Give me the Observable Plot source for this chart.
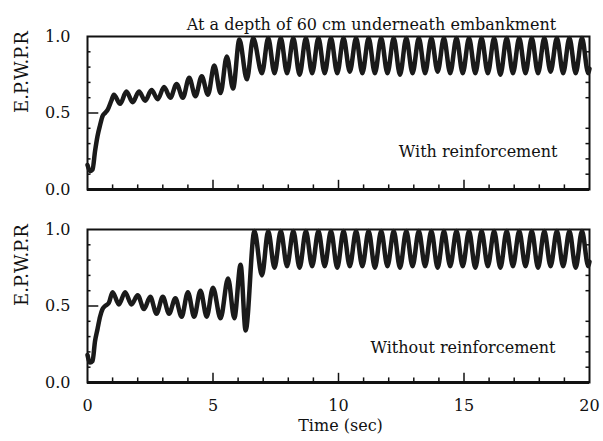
<!DOCTYPE html>
<html><head><meta charset="utf-8">
<script src="https://cdn.jsdelivr.net/npm/d3@7"></script>
<script src="https://cdn.jsdelivr.net/npm/@observablehq/plot@0.6"></script>
<style>html,body{margin:0;padding:0;background:#fff;} #chart{width:603px;height:441px;}</style>
</head><body><div id="chart"></div>
<script>
const panels = ["With reinforcement", "Without reinforcement"];
const title = "At a depth of 60 cm underneath embankment";
const xLabel = "Time (sec)";
const yLabel = "E.P.W.P.R";
const xTicks = [0, 5, 10, 15, 20];
const yTicks = [0, 0.5, 1];
const xMinorTicks = [1, 2, 3, 4, 6, 7, 8, 9, 11, 12, 13, 14, 16, 17, 18, 19];
const xMajorTicks = [5, 10, 15];
const yMinorTicks = [0.1, 0.2, 0.3, 0.4, 0.6, 0.7, 0.8, 0.9];
const yMajorTicks = [0.5];

const withT = [0, 0.1, 0.2, 0.3, 0.4, 0.5, 0.6, 0.7, 0.8, 0.95,
  1.05, 1.3, 1.55, 1.8, 2.05, 2.3, 2.55, 2.8, 3.05, 3.3, 3.55, 3.8, 4.05, 4.3, 4.55, 4.8, 5.05, 5.3, 5.55, 5.8, 6.05, 6.35, 6.6,
  6.95, 7.2, 7.45, 7.7, 7.95, 8.2, 8.45, 8.7, 8.95, 9.2, 9.45, 9.7, 9.95, 10.2, 10.45, 10.7, 10.95, 11.2, 11.45, 11.7, 11.95, 12.2,
  12.45, 12.7, 12.95, 13.2, 13.45, 13.7, 13.95, 14.2, 14.45, 14.7, 14.95, 15.2, 15.45, 15.7, 15.95, 16.2, 16.45, 16.7, 16.95, 17.2,
  17.45, 17.7, 17.95, 18.2, 18.45, 18.7, 18.95, 19.2, 19.45, 19.7, 19.95, 20];
const withV = [0.16, 0.12, 0.13, 0.25, 0.35, 0.42, 0.48, 0.50, 0.52, 0.58,
  0.62, 0.56, 0.64, 0.57, 0.64, 0.58, 0.65, 0.59, 0.67, 0.60, 0.69, 0.60, 0.73, 0.61, 0.74, 0.62, 0.81, 0.63, 0.87, 0.66, 0.98, 0.72, 0.99,
  0.76, 0.99, 0.76, 0.99, 0.76, 0.99, 0.75, 0.99, 0.76, 0.99, 0.76, 0.99, 0.76, 0.99, 0.77, 0.99, 0.76, 0.99, 0.76, 0.99,
  0.76, 0.99, 0.75, 0.99, 0.76, 0.99, 0.76, 0.99, 0.77, 0.99, 0.76, 0.99, 0.76, 0.99, 0.76, 0.99, 0.76, 0.99, 0.75, 0.99,
  0.76, 0.99, 0.76, 0.99, 0.76, 0.99, 0.77, 0.99, 0.76, 0.99, 0.76, 0.99, 0.76, 0.79];

const withoutT = [0, 0.1, 0.2, 0.3, 0.4, 0.5, 0.6, 0.7, 0.85,
  1.0, 1.25, 1.5, 1.75, 2.0, 2.25, 2.5, 2.75, 3.0, 3.25, 3.5, 3.75, 4.0, 4.25, 4.5, 4.75, 5.0, 5.3, 5.6, 5.85, 6.1, 6.3, 6.65,
  6.95, 7.2, 7.45, 7.7, 7.95, 8.2, 8.45, 8.7, 8.95, 9.2, 9.45, 9.7, 9.95, 10.2, 10.45, 10.7, 10.95, 11.2, 11.45, 11.7, 11.95, 12.2,
  12.45, 12.7, 12.95, 13.2, 13.45, 13.7, 13.95, 14.2, 14.45, 14.7, 14.95, 15.2, 15.45, 15.7, 15.95, 16.2, 16.45, 16.7, 16.95, 17.2,
  17.45, 17.7, 17.95, 18.2, 18.45, 18.7, 18.95, 19.2, 19.45, 19.7, 19.95, 20];
const withoutV = [0.18, 0.13, 0.14, 0.27, 0.35, 0.43, 0.48, 0.50, 0.52,
  0.59, 0.51, 0.59, 0.51, 0.57, 0.48, 0.56, 0.45, 0.56, 0.45, 0.55, 0.43, 0.59, 0.43, 0.60, 0.43, 0.62, 0.42, 0.68, 0.42, 0.77, 0.34, 0.99,
  0.70, 0.99, 0.75, 0.99, 0.76, 0.99, 0.75, 0.99, 0.76, 0.99, 0.76, 0.99, 0.75, 0.99, 0.76, 0.99, 0.76, 0.99, 0.75, 0.99,
  0.76, 0.99, 0.75, 0.99, 0.76, 0.99, 0.76, 0.99, 0.75, 0.99, 0.76, 0.99, 0.76, 0.99, 0.75, 0.99, 0.76, 0.99, 0.75, 0.99,
  0.76, 0.99, 0.76, 0.99, 0.75, 0.99, 0.76, 0.99, 0.76, 0.99, 0.75, 0.99, 0.76, 0.79];

const data = [
  ...withT.map((t, i) => ({panel: panels[0], t, v: withV[i]})),
  ...withoutT.map((t, i) => ({panel: panels[1], t, v: withoutV[i]}))
];

const ink = "#111";
const chart = Plot.plot({
  width: 603, height: 441,
  marginTop: 35, marginBottom: 58, marginLeft: 87, marginRight: 14,
  style: {fontFamily: "DejaVu Serif", fontSize: "16px", color: ink, background: "#fff"},
  x: {domain: [0, 20]},
  y: {domain: [0, 1]},
  fy: {domain: panels, paddingInner: 0.206, paddingOuter: 0, axis: null, label: null},
  marks: [
    Plot.frame({stroke: ink, strokeWidth: 2}),
    Plot.ruleY([0], {stroke: ink, strokeWidth: 3}),
    Plot.ruleX(xMinorTicks, {x: d => d, y1: 0, y2: 0.03, stroke: ink, strokeWidth: 1.5}),
    Plot.ruleX(xMajorTicks, {x: d => d, y1: 0, y2: 0.06, stroke: ink, strokeWidth: 1.5}),
    Plot.ruleY(yMinorTicks, {y: d => d, x1: 0, x2: 0.14, stroke: ink, strokeWidth: 1.5}),
    Plot.ruleY(yMajorTicks, {y: d => d, x1: 0, x2: 0.45, stroke: ink, strokeWidth: 1.5}),
    Plot.ruleY(yMinorTicks, {y: d => d, x1: 19.86, x2: 20, stroke: ink, strokeWidth: 1.5}),
    Plot.axisX({ticks: xTicks, tickSize: 0, tickPadding: 17, fontSize: 16, label: null}),
    Plot.axisY({ticks: yTicks, tickFormat: d3.format(".1f"), tickSize: 0, tickPadding: 17, fontSize: 16, label: null}),
    Plot.line(data, {x: "t", y: "v", fy: "panel", curve: "monotone-x", stroke: "#1a1a1a", strokeWidth: 4.5}),
    Plot.text(panels, {fy: d => d, text: () => yLabel, frameAnchor: "left", dx: -65, rotate: -90, fontSize: 18}),
    Plot.text([title], {fy: () => panels[0], text: d => d, frameAnchor: "top", dx: 33, dy: -18, fontSize: 16}),
    Plot.text([panels[0]], {fy: d => d, text: d => d, frameAnchor: "bottom-right", textAnchor: "end", dx: -32, dy: -33, fontSize: 16}),
    Plot.text([panels[1]], {fy: d => d, text: d => d, frameAnchor: "bottom-right", textAnchor: "end", dx: -34, dy: -30, fontSize: 16}),
    Plot.text([xLabel], {fy: () => panels[1], text: d => d, frameAnchor: "bottom", dx: 2, dy: 48, fontSize: 16})
  ]
});
document.getElementById("chart").appendChild(chart);
</script>
</body></html>
